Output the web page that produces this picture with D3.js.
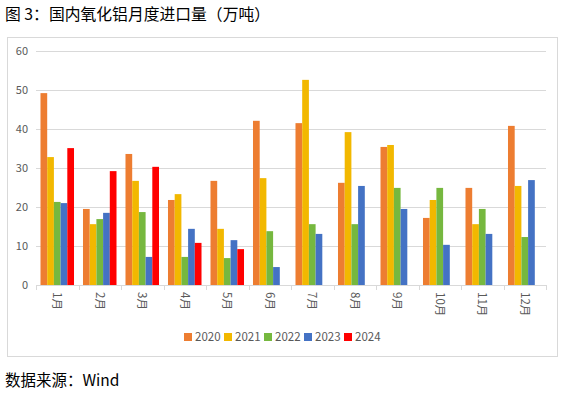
<!DOCTYPE html>
<html>
<head>
<meta charset="utf-8">
<script src="https://cdn.jsdelivr.net/npm/d3@7"></script>
<style>
  body { margin: 0; background: #fff; }
  text { font-family: "Noto Sans CJK SC", "Noto Sans", sans-serif; }
</style>
</head>
<body>
<div id="chart"></div>
<script>
var months = ["1月", "2月", "3月", "4月", "5月", "6月", "7月", "8月", "9月", "10月", "11月", "12月"];
var years = ["2020", "2021", "2022", "2023", "2024"];
var colors = ["#ED7D31", "#F2B800", "#76B83F", "#4472C4", "#FF0000"];
var yTicks = [0, 10, 20, 30, 40, 50, 60];

var v2020 = [49.2, 19.5, 33.6, 21.8, 26.7, 42.1, 41.5, 26.2, 35.4, 17.2, 24.9, 40.8];
var v2021 = [32.8, 15.6, 26.7, 23.3, 14.4, 27.4, 52.6, 39.2, 35.9, 21.8, 15.6, 25.4];
var v2022 = [21.3, 16.9, 18.7, 7.2, 6.9, 13.8, 15.6, 15.6, 24.9, 24.9, 19.5, 12.3];
var v2023 = [21.0, 18.5, 7.2, 14.4, 11.5, 4.6, 13.1, 25.4, 19.5, 10.3, 13.1, 26.9];
var v2024 = [35.1, 29.2, 30.3, 10.8, 9.2];

var series = [v2020, v2021, v2022, v2023, v2024];

var width = 565, height = 393;

var svg = d3.select("#chart").append("svg")
    .attr("width", width)
    .attr("height", height);

// title
svg.append("text")
    .attr("x", 5).attr("y", 20)
    .attr("font-size", 15.8).attr("fill", "#000")
    .text("图 3：国内氧化铝月度进口量（万吨）");

// chart frame
svg.append("rect")
    .attr("x", 7.5).attr("y", 37.5)
    .attr("width", 550).attr("height", 319)
    .attr("fill", "none").attr("stroke", "#d9d9d9");

var x = d3.scaleBand().domain(months).range([36, 546]).paddingInner(0).paddingOuter(0);
var xs = d3.scaleBand().domain(years).range([0, x.bandwidth()]).paddingInner(0).paddingOuter(0.67);
var y = d3.scaleLinear().domain([0, 60]).range([285, 51]);

// gridlines
svg.append("g").selectAll("line")
    .data(yTicks.filter(function (d) { return d > 0; }))
    .enter().append("line")
    .attr("x1", 36).attr("x2", 546)
    .attr("y1", function (d) { return Math.round(y(d)) + 0.5; })
    .attr("y2", function (d) { return Math.round(y(d)) + 0.5; })
    .attr("stroke", "#d9d9d9");

// y labels
svg.append("g").selectAll("text")
    .data(yTicks)
    .enter().append("text")
    .attr("x", 28)
    .attr("y", function (d) { return y(d); })
    .attr("dy", "0.35em")
    .attr("text-anchor", "end")
    .attr("font-size", 11).attr("fill", "#595959")
    .text(function (d) { return d; });

// bars
series.forEach(function (vals, i) {
    svg.append("g").selectAll("rect")
        .data(vals)
        .enter().append("rect")
        .attr("x", function (d, j) { return x(months[j]) + xs(years[i]); })
        .attr("width", xs.bandwidth())
        .attr("y", function (d) { return y(d); })
        .attr("height", function (d) { return y(0) - y(d); })
        .attr("fill", colors[i]);
});

// x axis
svg.append("line")
    .attr("x1", 36).attr("x2", 546)
    .attr("y1", 285.5).attr("y2", 285.5)
    .attr("stroke", "#d9d9d9");

svg.append("g").selectAll("line")
    .data(months.concat(["end"]))
    .enter().append("line")
    .attr("x1", function (d, i) { return Math.round(36 + i * x.bandwidth()) + 0.5; })
    .attr("x2", function (d, i) { return Math.round(36 + i * x.bandwidth()) + 0.5; })
    .attr("y1", 285).attr("y2", 290)
    .attr("stroke", "#d9d9d9");

svg.append("g").selectAll("text")
    .data(months)
    .enter().append("text")
    .attr("transform", function (d) {
        return "translate(" + (x(d) + x.bandwidth() / 2) + ",292) rotate(90)";
    })
    .attr("dy", "0.35em")
    .attr("font-size", 11.5).attr("fill", "#595959")
    .text(function (d) { return d; });

// legend
var legend = svg.append("g").selectAll("g")
    .data(years)
    .enter().append("g")
    .attr("transform", function (d, i) { return "translate(" + (184 + i * 40) + ",333)"; });

legend.append("rect")
    .attr("width", 8).attr("height", 8)
    .attr("fill", function (d, i) { return colors[i]; });

legend.append("text")
    .attr("x", 11).attr("y", 4)
    .attr("dy", "0.35em")
    .attr("font-size", 11.5).attr("fill", "#595959")
    .text(function (d) { return d; });

// source
svg.append("text")
    .attr("x", 5).attr("y", 386)
    .attr("font-size", 15.5).attr("fill", "#000")
    .text("数据来源：Wind");
</script>
</body>
</html>
